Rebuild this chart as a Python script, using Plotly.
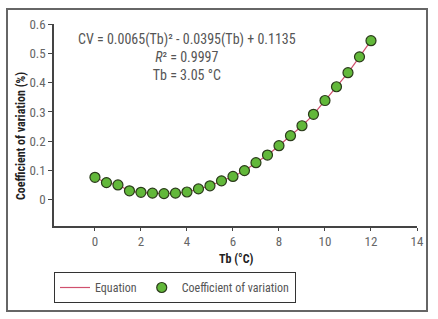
import plotly.graph_objects as go

tb = [0, 0.5, 1, 1.5, 2, 2.5, 3, 3.5, 4, 4.5, 5, 5.5, 6, 6.5, 7, 7.5, 8, 8.5, 9, 9.5, 10, 10.5, 11, 11.5, 12]
cv = [0.077, 0.059, 0.051, 0.031, 0.026, 0.023, 0.0215, 0.023, 0.027, 0.0375, 0.048, 0.065, 0.080, 0.100,
      0.127, 0.153, 0.185, 0.219, 0.253, 0.292, 0.339, 0.386, 0.434, 0.488, 0.543]
x_ticks = [0, 2, 4, 6, 8, 10, 12, 14]
y_ticks = [0, 0.1, 0.2, 0.3, 0.4, 0.5, 0.6]

FONT = "Liberation Sans Narrow, Arial Narrow, Roboto Condensed, Liberation Sans, sans-serif"
GRAY = "#666666"
AX = "#444444"

L, R, T, B = 54, 21, 24, 93
W, H = 438, 319
PW, PH = W - L - R, H - T - B


def px(x):
    return (x - L) / PW


def py(y):
    return (H - B - y) / PH


fig = go.Figure()
fig.add_trace(go.Scatter(x=tb, y=cv, mode="lines", name="Equation",
                         line=dict(color="#d0506e", width=1.2, shape="spline")))
fig.add_trace(go.Scatter(x=tb, y=cv, mode="markers", name="Coefficient of variation",
                         marker=dict(size=10, color="#62b83a", line=dict(color="#2a3a1a", width=1.2))))

fig.update_layout(
    width=W, height=H,
    margin=dict(l=L, r=R, t=T, b=B, autoexpand=False),
    paper_bgcolor="white", plot_bgcolor="white",
    font=dict(family=FONT, size=13, color=GRAY),
    showlegend=True,
    legend=dict(orientation="h", x=px(54), xanchor="left", y=py(272), yanchor="top",
                bordercolor="#333333", borderwidth=1, font=dict(size=12, color="#555555"),
                itemwidth=30, tracegroupgap=0),
    xaxis=dict(range=[-1.78, 14], tickvals=x_ticks, showgrid=False, zeroline=False,
               showline=True, linecolor=AX, linewidth=1.5, ticks="outside", ticklen=3,
               tickcolor=AX, tickfont=dict(size=13, color=GRAY), automargin=False),
    yaxis=dict(range=[-0.089, 0.6], tickvals=y_ticks, showgrid=False, zeroline=False,
               showline=True, linecolor=AX, linewidth=1.5, ticks="outside", ticklen=4,
               tickcolor=AX, tickfont=dict(size=13, color=GRAY), automargin=False),
)

fig.add_annotation(xref="paper", yref="paper", x=px(187), y=py(57), xanchor="center", yanchor="middle",
                   showarrow=False, align="center",
                   text="CV = 0.0065(Tb)² - 0.0395(Tb) + 0.1135<br><i>R</i>² = 0.9997<br>Tb = 3.05 °C",
                   font=dict(family=FONT, size=14, color="#555555"))
fig.add_annotation(xref="paper", yref="paper", x=px(236), y=py(259), xanchor="center", yanchor="middle",
                   showarrow=False, text="<b>Tb (°C)</b>",
                   font=dict(family=FONT, size=12, color="#222222"))
fig.add_annotation(xref="paper", yref="paper", x=px(21), y=py(136), xanchor="center", yanchor="middle",
                   showarrow=False, textangle=-90, text="<b>Coefficient of variation (%)</b>",
                   font=dict(family=FONT, size=12, color="#222222"))

fig.add_shape(type="rect", xref="paper", yref="paper", x0=px(7), x1=px(427), y0=py(311), y1=py(9),
              line=dict(color="#666666", width=2), layer="below")

fig.write_html("out.html", config={"displayModeBar": False},
               post_script="document.body.style.margin='0';document.body.style.overflow='hidden';")
